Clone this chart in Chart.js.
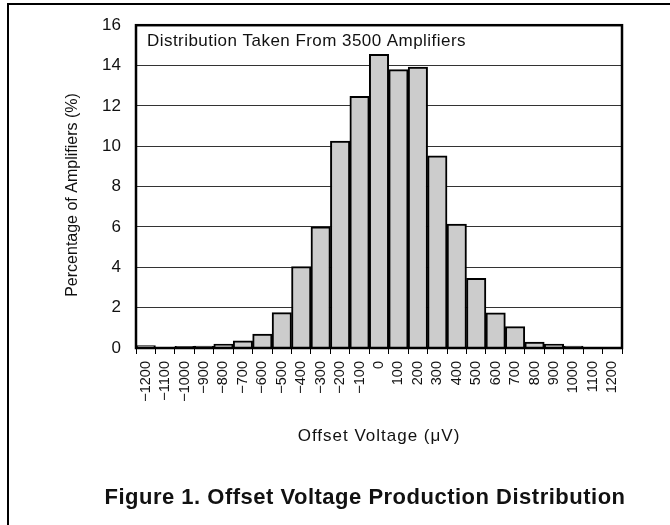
<!DOCTYPE html>
<html>
<head>
<meta charset="utf-8">
<script src="https://cdn.jsdelivr.net/npm/chart.js@4"></script>
<style>
  body { margin: 0; background: #fff; }
  #wrap { position: relative; width: 670px; height: 525px; }
  #caption {
    position: absolute; left: 0; width: 730px; top: 484px;
    text-align: center; font: bold 22px "Liberation Sans", Arial, sans-serif; color: #111;
    letter-spacing: 0.5px;
  }
</style>
</head>
<body>
<div id="wrap">
  <canvas id="chart" width="670" height="525"></canvas>
  <div id="caption">Figure 1. Offset Voltage Production Distribution</div>
</div>
<script>
// offset voltage bins (uV), labels at bin centres
const offsetLabels = [
  '\u22121200', '\u22121100', '\u22121000', '\u2212900', '\u2212800', '\u2212700', '\u2212600',
  '\u2212500', '\u2212400', '\u2212300', '\u2212200', '\u2212100', '0', '100', '200', '300',
  '400', '500', '600', '700', '800', '900', '1000', '1100', '1200'
];
// percentage of amplifiers in each bin
const percentValues = [
  0.12, 0, 0.08, 0.09, 0.2, 0.35, 0.69, 1.75, 4.03, 6.0, 10.26, 12.47, 14.55,
  13.8, 13.93, 9.53, 6.14, 3.45, 1.74, 1.06, 0.29, 0.2, 0.1, 0, 0
];
const yTicks = [0, 2, 4, 6, 8, 10, 12, 14, 16];

const noteText = 'Distribution Taken From 3500 Amplifiers';
const yTitle = 'Percentage of Amplifiers (%)';
const xTitle = 'Offset Voltage (\u03BCV)';

const FONT = '"Liberation Sans", Arial, sans-serif';
Chart.defaults.font.family = FONT;
Chart.defaults.color = '#111';

// frame, note text and axis titles drawn on top of the chart
const extras = {
  id: 'extras',
  beforeDraw(chart) {
    const ctx = chart.ctx;
    ctx.save();
    ctx.strokeStyle = '#000';
    ctx.lineWidth = 2;
    ctx.beginPath();
    ctx.moveTo(8, 525);
    ctx.lineTo(8, 4);
    ctx.lineTo(670, 4);
    ctx.stroke();
    ctx.restore();
  },
  afterDraw(chart) {
    const ctx = chart.ctx;
    const a = chart.chartArea;
    ctx.save();
    ctx.strokeStyle = '#000';
    ctx.lineWidth = 2.5;
    ctx.strokeRect(a.left, a.top, a.right - a.left, a.bottom - a.top);

    ctx.fillStyle = '#111';
    ctx.font = '17px ' + FONT;
    ctx.letterSpacing = '0.45px';
    ctx.textAlign = 'left';
    ctx.textBaseline = 'alphabetic';
    ctx.fillText(noteText, a.left + 11, a.top + 21);

    ctx.letterSpacing = '1px';
    ctx.textAlign = 'center';
    ctx.textBaseline = 'middle';
    ctx.fillText(xTitle, (a.left + a.right) / 2, 436);

    ctx.letterSpacing = '0px';
    ctx.font = '16px ' + FONT;
    ctx.translate(73, 195);
    ctx.rotate(-Math.PI / 2);
    ctx.fillText(yTitle, 0, 0);
    ctx.restore();
  }
};

new Chart(document.getElementById('chart'), {
  type: 'bar',
  data: {
    labels: offsetLabels,
    datasets: [{
      data: percentValues,
      backgroundColor: '#cccccc',
      borderColor: '#000',
      borderWidth: 2,
      barPercentage: 1,
      categoryPercentage: 1
    }]
  },
  options: {
    responsive: false,
    animation: false,
    layout: { padding: { left: 60, right: 48, top: 18, bottom: 77 } },
    plugins: { legend: { display: false }, tooltip: { enabled: false } },
    scales: {
      x: {
        grid: { drawOnChartArea: false, offset: true, color: '#000', tickLength: 6, lineWidth: 1 },
        border: { display: false },
        ticks: { minRotation: 90, maxRotation: 90, autoSkip: false, padding: 7, font: { size: 14.5 } },
        afterFit(scale) { scale.height = 100; }
      },
      y: {
        min: 0,
        max: 16,
        afterBuildTicks(scale) { scale.ticks = yTicks.map(v => ({ value: v })); },
        grid: { drawTicks: false, color: '#333', lineWidth: 1 },
        border: { display: false },
        ticks: { padding: 15, font: { size: 17 } },
        afterFit(scale) { scale.width = 76; }
      }
    }
  },
  plugins: [extras]
});
</script>
</body>
</html>
